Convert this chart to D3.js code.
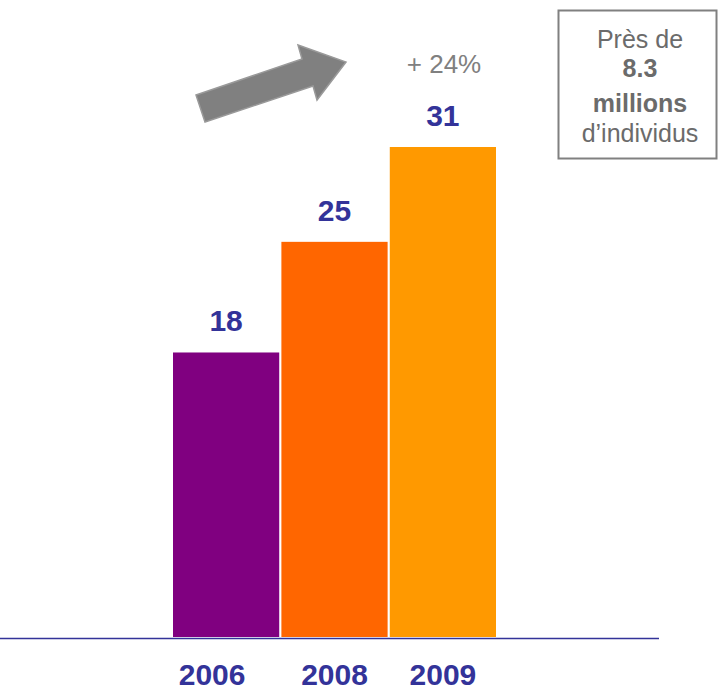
<!DOCTYPE html>
<html>
<head>
<meta charset="utf-8">
<script src="https://cdn.jsdelivr.net/npm/d3@7"></script>
<style>
  body { margin: 0; background: #fff; }
  text { font-family: Arial, "Liberation Sans", Helvetica, sans-serif; }
</style>
</head>
<body>
<script>
// chart data
var years = ["2006", "2008", "2009"];
var values = [18, 25, 31];
var colors = ["#800080", "#ff6600", "#ff9900"];
var growthLabel = "+ 24%";
var boxLines = ["Près de", "8.3", "millions", "d\u2019individus"];

var width = 720, height = 692;
var baseY = 637;

var svg = d3.select("body").append("svg")
  .attr("width", width)
  .attr("height", height);

var x = d3.scaleBand()
  .domain(years)
  .range([173, 496])
  .paddingInner(0.02);

var y = d3.scaleLinear()
  .domain([0, 31])
  .range([baseY, 147]);

// bars
svg.selectAll("rect.bar")
  .data(values)
  .enter()
  .append("rect")
  .attr("class", "bar")
  .attr("x", function (d, i) { return x(years[i]); })
  .attr("y", function (d) { return y(d); })
  .attr("width", x.bandwidth())
  .attr("height", function (d) { return baseY - y(d); })
  .attr("fill", function (d, i) { return colors[i]; });

// baseline
svg.append("line")
  .attr("x1", 0).attr("x2", 659)
  .attr("y1", baseY + 1.5).attr("y2", baseY + 1.5)
  .attr("stroke", "#333399")
  .attr("stroke-width", 1.5);

// value labels
svg.selectAll("text.val")
  .data(values)
  .enter()
  .append("text")
  .attr("class", "val")
  .attr("x", function (d, i) { return x(years[i]) + x.bandwidth() / 2; })
  .attr("y", function (d) { return y(d) - 21; })
  .attr("text-anchor", "middle")
  .attr("font-size", 30)
  .attr("font-weight", "bold")
  .attr("fill", "#333399")
  .text(function (d) { return d; });

// year labels
var xAxis = svg.append("g")
  .attr("transform", "translate(0," + baseY + ")")
  .call(d3.axisBottom(x).tickSize(0).tickPadding(27));
xAxis.select(".domain").remove();
xAxis.selectAll("text")
  .attr("font-size", 30)
  .attr("font-weight", "bold")
  .attr("fill", "#333399")
  .attr("dx", function (d, i) { return i == 0 ? -14 : 0; })
  .style("font-family", "Arial, 'Liberation Sans', sans-serif");

// growth arrow (decoration)
svg.append("path")
  .attr("d", "M196,95 L302,59 L298,45 L346,62 L317,100 L313,86 L205,122 Z")
  .attr("fill", "#808080")
  .attr("stroke", "#9a9a9a")
  .attr("stroke-width", 1.5)
  .attr("stroke-linejoin", "miter");

svg.append("text")
  .attr("x", 444)
  .attr("y", 73)
  .attr("text-anchor", "middle")
  .attr("font-size", 26)
  .attr("fill", "#808080")
  .text(growthLabel);

// box note
svg.append("rect")
  .attr("x", 558.5).attr("y", 10.5)
  .attr("width", 158).attr("height", 148)
  .attr("fill", "none")
  .attr("stroke", "#808080")
  .attr("stroke-width", 2);

var boxY = [48, 77, 112, 142];
svg.selectAll("text.box")
  .data(boxLines)
  .enter()
  .append("text")
  .attr("class", "box")
  .attr("x", 640)
  .attr("y", function (d, i) { return boxY[i]; })
  .attr("text-anchor", "middle")
  .attr("font-size", 25)
  .attr("font-weight", function (d, i) { return (i == 1 || i == 2) ? "bold" : "normal"; })
  .attr("fill", "#6b6b6b")
  .text(function (d) { return d; });
</script>
</body>
</html>
